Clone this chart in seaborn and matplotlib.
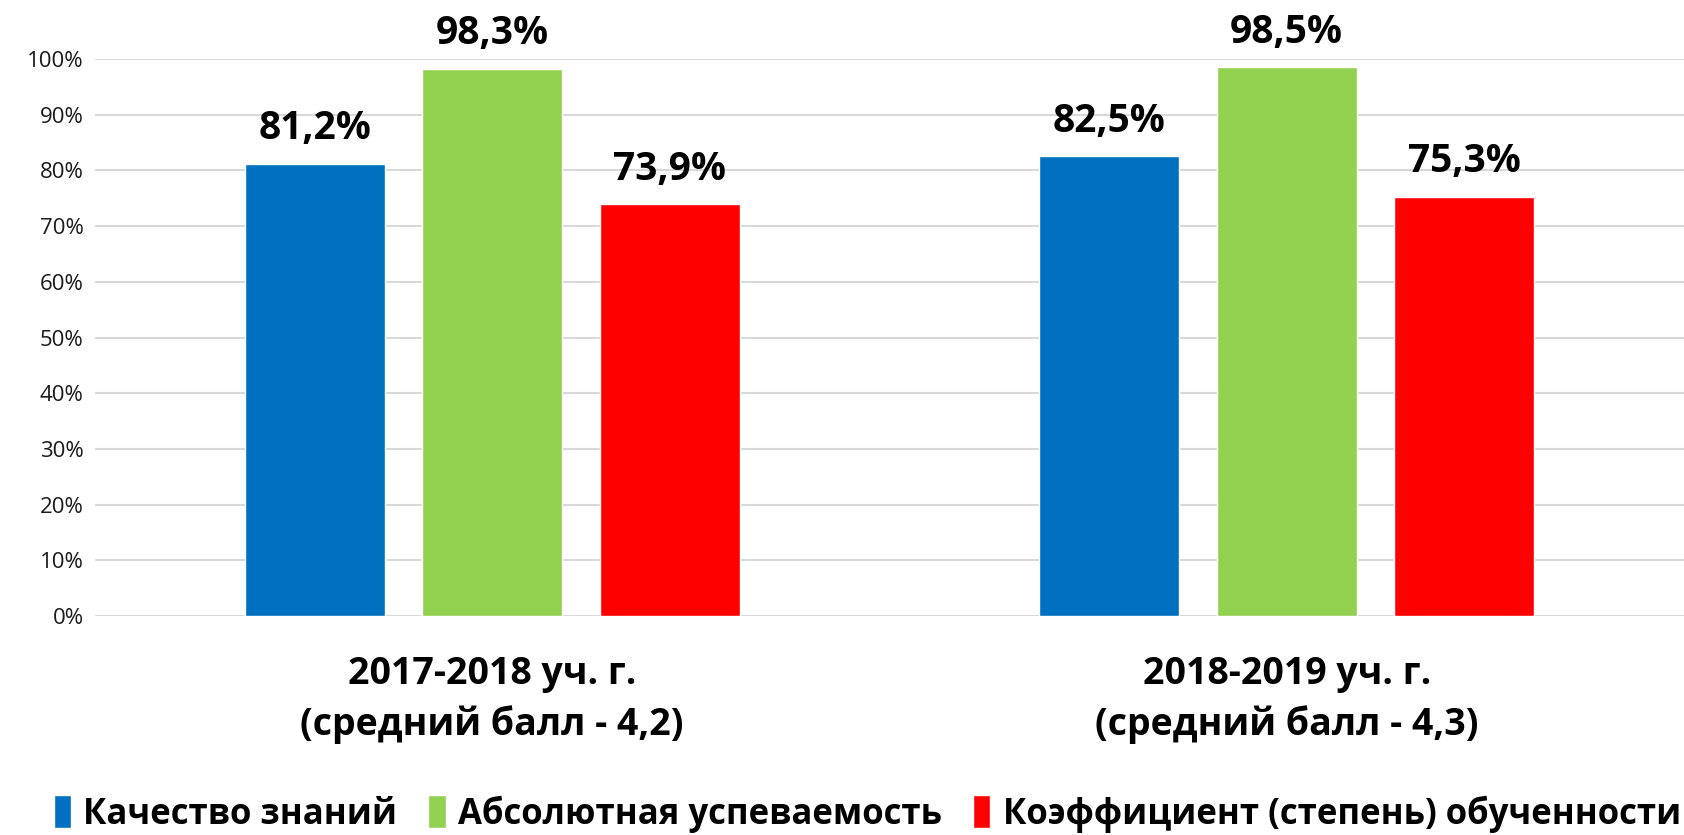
import matplotlib
matplotlib.use("Agg")
import matplotlib.pyplot as plt
import pandas as pd
import seaborn as sns

# chart data
years = ['2017-2018 уч. г.\n(средний балл - 4,2)', '2018-2019 уч. г.\n(средний балл - 4,3)']
series = ['Качество знаний', 'Абсолютная успеваемость', 'Коэффициент (степень) обученности']
kachestvo = [81.2, 82.5]
uspevaemost = [98.3, 98.5]
koeff = [73.9, 75.3]
y_ticks = [0, 10, 20, 30, 40, 50, 60, 70, 80, 90, 100]
colors = ['#0070C0', '#92D050', '#FF0000']

rows = []
for name, vals in zip(series, [kachestvo, uspevaemost, koeff]):
    for yr, v in zip(years, vals):
        rows.append({'year': yr, 'series': name, 'value': v})
df = pd.DataFrame(rows)

sns.set_theme(style='white')
plt.rcParams['font.family'] = ['Open Sans', 'DejaVu Sans']

fig = plt.figure(figsize=(16.84, 8.35), dpi=100)
ax = fig.add_axes([0.0564, 0.2623, 0.9436, 0.667])

sns.barplot(data=df, x='year', y='value', hue='series', hue_order=series,
            palette=colors, width=0.67, gap=0.21, saturation=1, ax=ax,
            errorbar=None)

ax.set_ylim(0, 100)
ax.set_xlim(-0.5, 1.5)
ax.set_yticks(y_ticks)
ax.set_yticklabels([f'{t}%' for t in y_ticks], fontsize=16, color='#1a1a1a')
ax.yaxis.grid(True, color='#D9D9D9', linewidth=1.5)
ax.set_axisbelow(True)
for s in ax.spines.values():
    s.set_visible(False)
ax.tick_params(axis='both', length=0)
ax.tick_params(axis='y', pad=8)
ax.tick_params(axis='x', pad=28)
for lbl in ax.get_xticklabels():
    lbl.set_fontsize(27)
    lbl.set_fontweight('bold')
    lbl.set_color('black')
    lbl.set_linespacing(1.4)
ax.set_xlabel('')
ax.set_ylabel('')

for cont in ax.containers:
    ax.bar_label(cont, labels=[f'{v:.1f}'.replace('.', ',') + '%' for v in cont.datavalues],
                 padding=11, fontsize=28, fontweight='bold', color='black',
                 clip_on=False)

sns.move_legend(ax, 'lower center', bbox_to_anchor=(0.486, -0.445), ncol=3,
                frameon=False, title=None,
                prop={'weight': 'bold', 'size': 25}, handlelength=0.5,
                handleheight=1.1, handletextpad=0.35, columnspacing=0.9)
for t in ax.get_legend().get_texts():
    t.set_color('black')

fig.savefig('out.png', dpi=100)
